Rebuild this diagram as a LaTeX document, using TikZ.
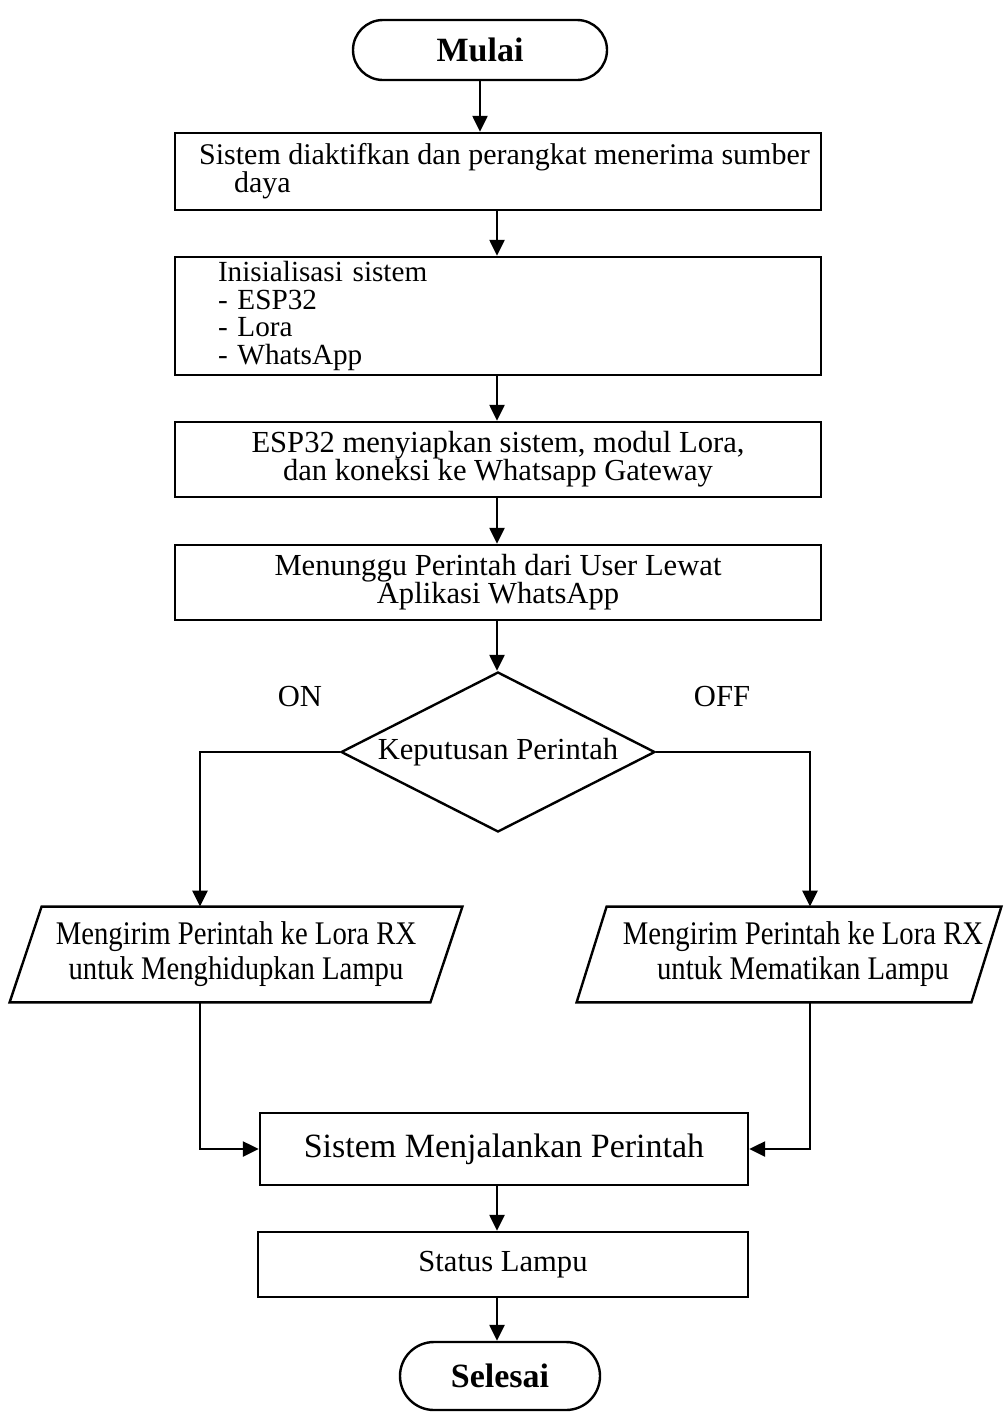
\documentclass[tikz,border=0pt]{standalone}
\usepackage{fontspec}
\setmainfont{Liberation Serif}
\usetikzlibrary{shapes.geometric,arrows.meta,calc}
\begin{document}
\begin{tikzpicture}[x=0.5pt,y=-0.5pt,
  ln/.style={line width=1.2pt},
  box/.style={ln,draw,rectangle,minimum width=323pt,inner sep=0pt,font=\fontsize{15.3}{14}\selectfont},
  term/.style={ln,draw,rectangle,inner sep=0pt,font=\fontsize{17}{20}\selectfont\bfseries},
  arr/.style={ln,-{Triangle[length=8pt,width=7.5pt]}},
  txt/.style={font=\fontsize{15.3}{14}\selectfont},
  para/.style={inner sep=0pt,align=center,minimum height=47.5pt,font=\fontsize{16.5}{17.5}\selectfont},
]
\useasboundingbox (0,0) rectangle (1003,1426);
\fill[white] (0,0) rectangle (1003,1426);

\node[term,rounded corners=15pt,minimum width=127pt,minimum height=30pt] (start) at (480,50) {Mulai};

\node[box,minimum height=38.5pt,align=left,font=\fontsize{15}{14}\selectfont] (b1) at (498,171.5)
  {\hspace*{6.5pt}Sistem diaktifkan dan perangkat menerima sumber\\\hspace*{24pt}daya};

\node[box,minimum height=59pt,align=left,text width=280pt,font=\fontsize{14.6}{13.7}\selectfont] (b2) at (498,316)
  {Inisialisasi sistem\\- ESP32\\- Lora\\- WhatsApp};

\node[box,minimum height=37.5pt,align=center] (b3) at (498,459.5)
  {ESP32 menyiapkan sistem, modul Lora,\\dan koneksi ke Whatsapp Gateway};

\node[box,minimum height=37.5pt,align=center] (b4) at (498,582.5)
  {Menunggu Perintah dari User Lewat\\Aplikasi WhatsApp};

\node[ln,draw,diamond,aspect=1.96,minimum width=157pt,minimum height=80pt,inner sep=0pt,txt] (dec) at (498,752) {Keputusan Perintah};

\node[txt] (on) at (300,697) {ON};
\node[txt] (off) at (722,697) {OFF};

\node[para,minimum width=226pt] (pl) at (236,954.5)
  {\scalebox{0.87}[1]{Mengirim Perintah ke Lora RX}\\\scalebox{0.87}[1]{untuk Menghidupkan Lampu}};
\draw[ln] ($(pl.north west)+(32,0)$) -- (pl.north east) -- ($(pl.south east)+(-32,0)$) -- (pl.south west) -- cycle;

\node[para,minimum width=212pt] (pr) at (789,954.5)
  {\hspace*{14pt}\scalebox{0.87}[1]{Mengirim Perintah ke Lora RX}\\\hspace*{14pt}\scalebox{0.87}[1]{untuk Mematikan Lampu}};
\draw[ln] ($(pr.north west)+(30,0)$) -- (pr.north east) -- ($(pr.south east)+(-30,0)$) -- (pr.south west) -- cycle;

\node[box,minimum width=244pt,minimum height=36pt,font=\fontsize{17}{20}\selectfont] (b5) at (504,1149) {Sistem Menjalankan Perintah};
\node[box,minimum width=245pt,minimum height=32.5pt] (b6) at (503,1264.5) {Status Lampu};

\node[term,rounded corners=17pt,minimum width=100pt,minimum height=34pt] (end) at (500,1376) {Selesai};

\draw[arr] (start.south) -- (start.south |- b1.north);
\draw[arr] (b1.south -| 497,0) -- (b2.north -| 497,0);
\draw[arr] (b2.south -| 497,0) -- (b3.north -| 497,0);
\draw[arr] (b3.south -| 497,0) -- (b4.north -| 497,0);
\draw[arr] (b4.south -| 497,0) -- (dec.north -| 497,0);
\draw[arr] (dec.west) -| ([xshift=-18pt]pl.north);
\draw[arr] (dec.east) -| ([xshift=10.5pt]pr.north);
\draw[arr] ([xshift=-18pt]pl.south) |- (b5.west);
\draw[arr] ([xshift=10.5pt]pr.south) |- (b5.east);
\draw[arr] (b5.south -| 497,0) -- (b6.north -| 497,0);
\draw[arr] (b6.south -| 497,0) -- (end.north -| 497,0);
\end{tikzpicture}
\end{document}
